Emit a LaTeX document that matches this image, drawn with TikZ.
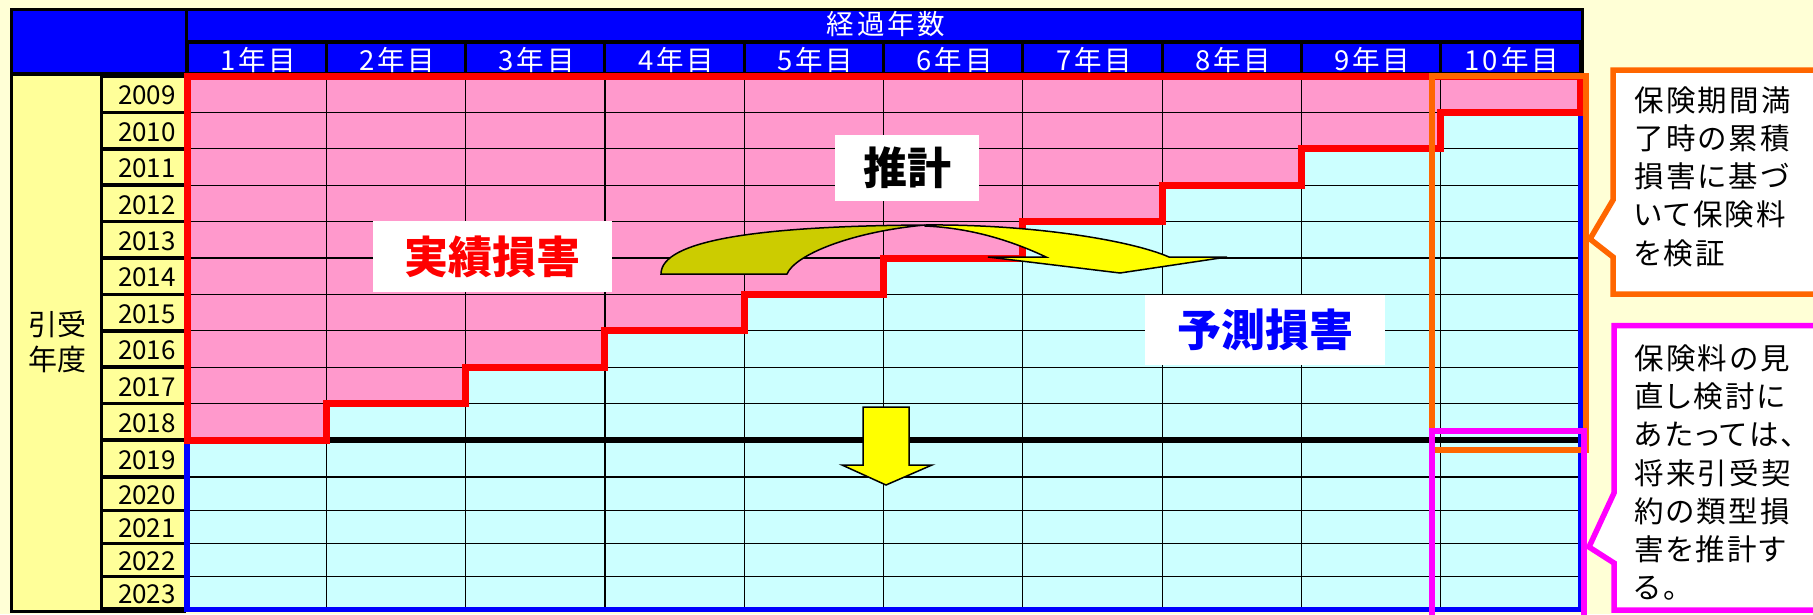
\documentclass[tikz,border=0pt]{standalone}
\usepackage{fontspec}
\setmainfont{Noto Sans CJK JP}
\newfontfamily\cjkp{Noto Sans CJK JP}[RawFeature=+palt, LetterSpace=8]
\newfontfamily\hdrfont{Noto Sans CJK JP}[LetterSpace=10]
\definecolor{bgy}{RGB}{255,255,214}
\definecolor{hdrblue}{RGB}{0,0,255}
\definecolor{pinkc}{RGB}{255,153,204}
\definecolor{cyanc}{RGB}{204,255,255}
\definecolor{lyel}{RGB}{255,255,153}
\definecolor{orangec}{RGB}{255,102,0}
\definecolor{magc}{RGB}{255,0,255}
\definecolor{olivec}{RGB}{204,204,0}
\definecolor{redc}{RGB}{255,0,0}
\definecolor{yelc}{RGB}{255,255,0}
\tikzset{
 gridline/.style={line width=1.2pt, black},
 hdrtxt/.style={text=white, font=\hdrfont\fontsize{27.5}{30}\selectfont, inner sep=0pt},
 yrtxt/.style={text=black, font=\fontsize{26}{30}\selectfont, inner sep=0pt, anchor=east},
 lbl/.style={fill=white, inner sep=0pt, font=\fontsize{44}{50}\selectfont\bfseries},
 arrowshape/.style={draw=black, line width=1.5pt, line join=miter},
 callout/.style={fill=white, line width=5.5pt, line join=miter},
 callouttxt/.style={inner sep=0pt, anchor=west, align=left, font=\cjkp\fontsize{29.5}{38.3}\selectfont},
}
\begin{document}
\begin{tikzpicture}[x=1pt,y=-1pt]
\useasboundingbox (0,0) rectangle (1813,614);
\fill[bgy] (0,0) rectangle (1813,614);
% black frame of header and left columns
\fill[black] (10,8) rectangle (1583.5,74.5);
\fill[black] (10,8) rectangle (186,612.5);
% header
\fill[hdrblue] (13,11) rectangle (184.5,72);
\fill[hdrblue] (187.5,11) rectangle (1580.5,40);
\node[hdrtxt] (hall) at (886,24.5) {経過年数};
\foreach \k in {1,...,10} {
  \fill[hdrblue] ({187+139.3*(\k-1)+1.5},43.5) rectangle ({187+139.3*\k-1.5},72);
  \node[hdrtxt] (hc\k) at ({187+139.3*(\k-0.5)+1.5},59.5) {\k{}年目};
}
% left columns
\fill[lyel] (13,75.5) rectangle (99.5,609.5);
\node[inner sep=0pt, align=center, font=\fontsize{29}{35}\selectfont] (hy) at (57,342) {引受\\年度};
\foreach \yr/\a/\b in {2009/76/112.4, 2010/112.4/148.8, 2011/148.8/185.2, 2012/185.2/221.6, 2013/221.6/258, 2014/258/294.4, 2015/294.4/330.8, 2016/330.8/367.2, 2017/367.2/403.6, 2018/403.6/440, 2019/440/477, 2020/477/510.5, 2021/510.5/543.5, 2022/543.5/576.5, 2023/576.5/609}{
  \fill[lyel] (102.5,{\a+1.8}) rectangle (183.5,{\b-1.8});
  \node[yrtxt] (y\yr) at (176,{(\a+\b)/2+1.5}) {\yr};
}
% data area
\fill[cyanc] (187,76) rectangle (1580,609);
\fill[pinkc] (187,76) -- (1580,76) -- (1580,112.4) -- (1440.7,112.4) -- (1440.7,148.8) -- (1301.4,148.8) -- (1301.4,185.2) -- (1162.1,185.2) -- (1162.1,221.6) -- (1022.8,221.6) -- (1022.8,258) -- (883.5,258) -- (883.5,294.4) -- (744.2,294.4) -- (744.2,330.8) -- (604.9,330.8) -- (604.9,367.2) -- (465.6,367.2) -- (465.6,403.6) -- (326.3,403.6) -- (326.3,440) -- (187,440) -- cycle;
\foreach \k in {1,...,9} { \draw[gridline] ({187+139.3*\k},76) -- ({187+139.3*\k},609); }
\foreach \r in {112.4,148.8,185.2,221.6,258,294.4,330.8,367.2,403.6,477,510.5,543.5,576.5} { \draw[gridline] (187,\r) -- (1580,\r); }
\draw[line width=6pt] (326.3,440) -- (1580,440);
\draw[hdrblue, line width=5.5pt] (1580.5,112.4) -- (1580.5,609.5) -- (187,609.5) -- (187,440);
\draw[redc, line width=7pt, line join=miter] (187,440) -- (187,76.5) -- (1580.5,76.5) -- (1580.5,112.4) -- (1440.7,112.4) -- (1440.7,148.8) -- (1301.4,148.8) -- (1301.4,185.2) -- (1162.1,185.2) -- (1162.1,221.6) -- (1022.8,221.6) -- (1022.8,258) -- (883.5,258) -- (883.5,294.4) -- (744.2,294.4) -- (744.2,330.8) -- (604.9,330.8) -- (604.9,367.2) -- (465.6,367.2) -- (465.6,403.6) -- (326.3,403.6) -- (326.3,440) -- cycle;
% highlight frames
\draw[orangec, line width=6pt] (1432,76) rectangle (1586,450);
\draw[magc, line width=6pt] (1432,431) rectangle (1584,625);
% labels
\node[lbl, text=redc, minimum width=239pt, minimum height=71pt] (act) at (492.5,256.5) {実績損害};
\node[lbl, text=black, minimum width=144pt, minimum height=66pt] (est) at (907,168) {推計};
\node[lbl, text=hdrblue, minimum width=240pt, minimum height=70pt] (fc) at (1265,330) {予測損害};
% curved arrow
\path[arrowshape, fill=yelc] (925,225) .. controls (1030,224) and (1130,240) .. (1169,257) -- (1227,257) -- (1120,273) -- (988,257) -- (1046,257) .. controls (1010,240) and (970,228) .. (925,226) -- cycle;
\path[arrowshape, fill=olivec] (661,274) .. controls (661,240) and (760,226) .. (925,225) .. controls (850,232) and (795,255) .. (787,274) -- cycle;
% down arrow
\path[arrowshape, fill=yelc] (863,407) -- (909,407) -- (909,465) -- (932,465) -- (886,485) -- (842,465) -- (863,465) -- cycle;
% callouts
\path[callout, draw=orangec] (1613,70) -- (1830,70) -- (1830,294) -- (1613,294) -- (1613,257) -- (1590,239) -- (1613,200) -- cycle;
\node[callouttxt] (c1) at (1634,176.5) {保険期間満\\了時の累積\\損害に基づ\\いて保険料\\を検証};
\path[callout, draw=magc] (1614,325.5) -- (1830,325.5) -- (1830,610) -- (1614,610) -- (1614,563) -- (1589,547) -- (1614,493) -- cycle;
\node[callouttxt] (c2) at (1634,472.5) {保険料の見\\直し検討に\\あたっては、\\将来引受契\\約の類型損\\害を推計す\\る。};
\end{tikzpicture}
\end{document}
